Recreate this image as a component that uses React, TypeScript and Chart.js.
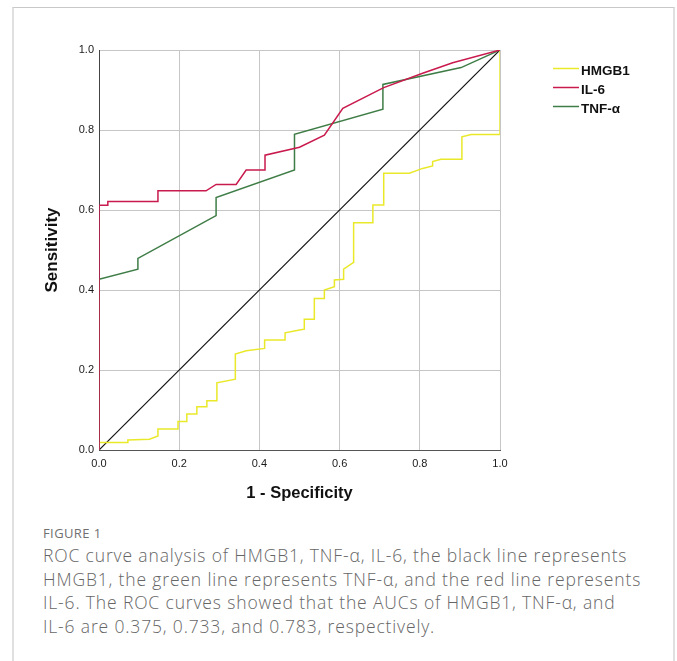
import React, { useEffect, useRef } from "react";
import { Chart, registerables } from "chart.js";

Chart.register(...registerables);

// ---- Data ----
const seriesLabels = ["IL-6", "TNF-α", "HMGB1"];
const legendOrder = ["HMGB1", "IL-6", "TNF-α"];
const xTickLabels = ["0.0", "0.2", "0.4", "0.6", "0.8", "1.0"];

const il6X = [0, 0, 0.022, 0.022, 0.147, 0.147, 0.267, 0.292, 0.342, 0.367, 0.414, 0.414, 0.5, 0.562, 0.608, 0.71, 0.807, 0.882, 1];
const il6Y = [0, 0.612, 0.612, 0.621, 0.621, 0.648, 0.648, 0.664, 0.664, 0.7, 0.7, 0.737, 0.757, 0.787, 0.854, 0.906, 0.942, 0.968, 1];

const tnfX = [0, 0, 0.097, 0.097, 0.292, 0.292, 0.4875, 0.4875, 0.708, 0.708, 0.903, 1];
const tnfY = [0, 0.427, 0.452, 0.479, 0.586, 0.631, 0.7, 0.789, 0.852, 0.914, 0.956, 1];

const hmgX = [0, 0, 0.072, 0.072, 0.126, 0.147, 0.147, 0.197, 0.197, 0.219, 0.219, 0.244, 0.244, 0.269, 0.269, 0.294, 0.294, 0.34, 0.34, 0.367, 0.413, 0.413, 0.464, 0.464, 0.5, 0.512, 0.512, 0.537, 0.537, 0.562, 0.562, 0.587, 0.587, 0.61, 0.61, 0.635, 0.635, 0.683, 0.683, 0.71, 0.71, 0.774, 0.807, 0.832, 0.832, 0.853, 0.905, 0.905, 0.928, 1, 1];
const hmgY = [0, 0.019, 0.019, 0.025, 0.027, 0.035, 0.0525, 0.0525, 0.071, 0.071, 0.09, 0.09, 0.108, 0.108, 0.123, 0.123, 0.168, 0.177, 0.24, 0.248, 0.254, 0.275, 0.275, 0.293, 0.3, 0.302, 0.327, 0.327, 0.379, 0.379, 0.4, 0.408, 0.425, 0.427, 0.452, 0.469, 0.568, 0.568, 0.6125, 0.6125, 0.692, 0.692, 0.704, 0.71, 0.721, 0.727, 0.727, 0.783, 0.789, 0.789, 1];

const refX = [0, 1];
const refY = [0, 1];

const colors: Record<string, string> = {
  "IL-6": "#c91a4d",
  "TNF-α": "#3f7d47",
  HMGB1: "#e9e92a",
};

const toPoints = (xs: number[], ys: number[]) => xs.map((x, i) => ({ x, y: ys[i] }));

const legendPlugin = {
  id: "roclegend",
  afterDraw(chart: any) {
    const ctx = chart.ctx;
    ctx.save();
    const x0 = 553;
    const y0 = 68.5;
    const step = 19;
    legendOrder.forEach((name, i) => {
      const ds = chart.data.datasets.find((d: any) => d.label === name);
      if (!ds) return;
      const y = y0 + i * step;
      ctx.strokeStyle = ds.borderColor;
      ctx.lineWidth = 1.5;
      ctx.beginPath();
      ctx.moveTo(x0, y);
      ctx.lineTo(x0 + 26, y);
      ctx.stroke();
      ctx.fillStyle = "#111";
      ctx.font = "bold 13.5px 'Liberation Sans', Arial, sans-serif";
      ctx.textBaseline = "middle";
      ctx.textAlign = "left";
      ctx.fillText(name, x0 + 28, y + 2.5);
    });
    ctx.restore();
  },
};

function RocChart() {
  const ref = useRef<HTMLCanvasElement | null>(null);
  useEffect(() => {
    if (!ref.current) return;
    const series: Record<string, { x: number; y: number }[]> = {
      "IL-6": toPoints(il6X, il6Y),
      "TNF-α": toPoints(tnfX, tnfY),
      HMGB1: toPoints(hmgX, hmgY),
    };
    const datasets: any[] = seriesLabels.map((name) => ({
      label: name,
      data: series[name],
      borderColor: colors[name],
      backgroundColor: colors[name],
      borderWidth: 1.5,
      pointRadius: 0,
      tension: 0,
      fill: false,
    }));
    datasets.push({
      label: "reference",
      data: toPoints(refX, refY),
      borderColor: "#111111",
      borderWidth: 1.2,
      pointRadius: 0,
      tension: 0,
      fill: false,
    });
    const chart = new Chart(ref.current, {
      type: "line",
      data: { datasets },
      plugins: [legendPlugin],
      options: {
        animation: false,
        responsive: false,
        maintainAspectRatio: false,
        layout: { padding: { left: 42, right: 177, top: 50, bottom: 17 } },
        plugins: { legend: { display: false }, tooltip: { enabled: false } },
        scales: {
          x: {
            type: "linear",
            min: 0,
            max: 1,
            afterFit: (s: any) => {
              s.height = 53;
            },
            ticks: {
              stepSize: 0.2,
              padding: 7,
              color: "#1a1a1a",
              font: { family: "'Liberation Sans', Arial, sans-serif", size: 11 },
              callback: (_v: any, i: number) => xTickLabels[i],
            },
            grid: { color: "#c6c6c6", lineWidth: 1, drawTicks: false },
            border: { color: "#555555", width: 1 },
            title: {
              display: true,
              text: "1 - Specificity",
              color: "#111",
              padding: { top: 0, bottom: 0 },
              font: { family: "'Liberation Sans', Arial, sans-serif", size: 16.5, weight: "bold" },
            },
          },
          y: {
            type: "linear",
            min: 0,
            max: 1,
            afterFit: (s: any) => {
              s.width = 57;
            },
            ticks: {
              stepSize: 0.2,
              padding: 5,
              color: "#1a1a1a",
              font: { family: "'Liberation Sans', Arial, sans-serif", size: 11 },
              callback: (v: any) => Number(v).toFixed(1),
            },
            grid: { color: "#c6c6c6", lineWidth: 1, drawTicks: false },
            border: { color: "#444444", width: 1 },
            title: {
              display: true,
              text: "Sensitivity",
              color: "#111",
              padding: { top: 0, bottom: 0 },
              font: { family: "'Liberation Sans', Arial, sans-serif", size: 17, weight: "bold" },
            },
          },
        },
      } as any,
    });
    return () => chart.destroy();
  }, []);
  return (
    <canvas
      ref={ref}
      width={677}
      height={520}
      style={{ position: "absolute", left: 0, top: 0, width: 677, height: 520 }}
    />
  );
}

export default function App() {
  const captionFont = "'Open Sans', 'Noto Sans', sans-serif";
  return (
    <div style={{ position: "absolute", left: 0, top: 0, width: 677, height: 661, overflow: "hidden", background: "#fff" }}>
      <div
        style={{
          position: "absolute",
          left: 12,
          top: 7,
          width: 663,
          height: 700,
          boxSizing: "border-box",
          borderTop: "1px solid #c8c8c8",
          borderLeft: "2px solid #e0e0e0",
          borderRight: "2px solid #e0e0e0",
        }}
      />
      <RocChart />
      <div
        style={{
          position: "absolute",
          left: 43,
          top: 525,
          fontFamily: captionFont,
          fontSize: 13,
          letterSpacing: "0.4px",
          lineHeight: "16px",
          color: "#707070",
          whiteSpace: "nowrap",
        }}
      >
        FIGURE 1
      </div>
      <div
        style={{
          position: "absolute",
          left: 43,
          top: 544,
          fontFamily: captionFont,
          fontSize: 17.5,
          fontWeight: 300,
          letterSpacing: "0.85px",
          lineHeight: "23.5px",
          color: "#666666",
          whiteSpace: "nowrap",
        }}
      >
        ROC curve analysis of HMGB1, TNF-α, IL-6, the black line represents
        <br />
        HMGB1, the green line represents TNF-α, and the red line represents
        <br />
        IL-6. The ROC curves showed that the AUCs of HMGB1, TNF-α, and
        <br />
        IL-6 are 0.375, 0.733, and 0.783, respectively.
      </div>
    </div>
  );
}
